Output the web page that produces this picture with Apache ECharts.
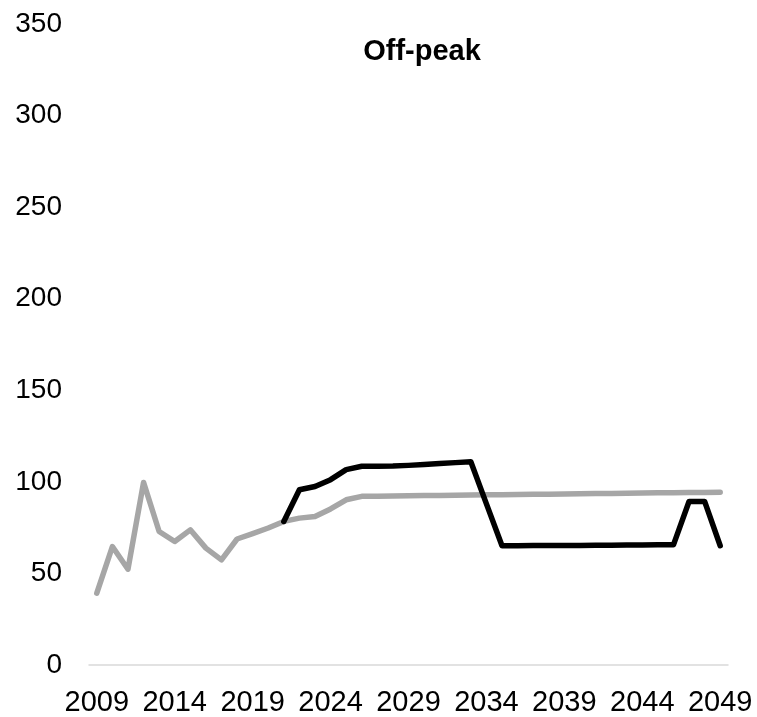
<!DOCTYPE html>
<html>
<head>
<meta charset="utf-8">
<script src="https://cdn.jsdelivr.net/npm/echarts@6/dist/echarts.min.js"></script>
<style>
  html, body { margin: 0; padding: 0; background: #fff; }
  #chart { width: 757px; height: 717px; }
</style>
</head>
<body>
<div id="chart"></div>
<script>
// Years on the category axis
const years = [];
for (let y = 2009; y <= 2049; y++) years.push(String(y));

// Reference path (gray): history plus flat outlook
const grayValues = [
  39.2, 64.7, 52.3, 99.7, 72.9, 67.4, 73.8, 63.8, 57.4, 68.8,
  71.7, 74.8, 78.4, 80.2, 81.1, 85.2, 90.2, 92.1, 92.2, 92.3,
  92.4, 92.5, 92.6, 92.7, 92.8, 92.9, 93.0, 93.1, 93.2, 93.3,
  93.4, 93.5, 93.6, 93.7, 93.8, 93.9, 94.0, 94.1, 94.2, 94.2,
  94.3
];

// Scenario path (black), starting where it departs from the reference
const blackValues = [
  null, null, null, null, null, null, null, null, null, null,
  null, null, 78.4, 95.7, 97.5, 101.2, 106.7, 108.5, 108.5, 108.6,
  109.0, 109.5, 110.0, 110.5, 111.0, 88.0, 65.1, 65.1, 65.2, 65.2,
  65.3, 65.3, 65.4, 65.4, 65.5, 65.5, 65.6, 65.6, 89.3, 89.3,
  65.1
];

const yTicks = { min: 0, max: 350, step: 50 };
const titleText = 'Off-peak';

const font = '"Liberation Sans", Arial, sans-serif';
const chart = echarts.init(document.getElementById('chart'), null, { renderer: 'canvas' });

chart.setOption({
  animation: false,
  backgroundColor: '#ffffff',
  title: {
    text: titleText,
    left: 417,
    top: 32,
    textAlign: 'center',
    textStyle: { fontFamily: font, fontSize: 29, fontWeight: 'bold', color: '#000' }
  },
  grid: { left: 89, right: 29, top: 24, bottom: 51, containLabel: false },
  xAxis: {
    type: 'category',
    data: years,
    boundaryGap: true,
    axisLine: { show: true, lineStyle: { color: '#d9d9d9', width: 1.5 } },
    axisTick: { show: false },
    axisLabel: {
      interval: 4,
      margin: 23,
      fontFamily: font,
      fontSize: 29,
      color: '#000'
    },
    splitLine: { show: false }
  },
  yAxis: {
    type: 'value',
    min: yTicks.min,
    max: yTicks.max,
    interval: yTicks.step,
    axisLine: { show: false },
    axisTick: { show: false },
    splitLine: { show: false },
    axisLabel: { margin: 27, fontFamily: font, fontSize: 28, color: '#000' }
  },
  series: [
    {
      type: 'line',
      data: grayValues,
      symbol: 'none',
      lineStyle: { color: '#a6a6a6', width: 5.5, cap: 'round', join: 'round' },
      z: 2
    },
    {
      type: 'line',
      data: blackValues,
      symbol: 'none',
      connectNulls: false,
      lineStyle: { color: '#000000', width: 5.5, cap: 'round', join: 'round' },
      z: 3
    }
  ]
});
</script>
</body>
</html>
